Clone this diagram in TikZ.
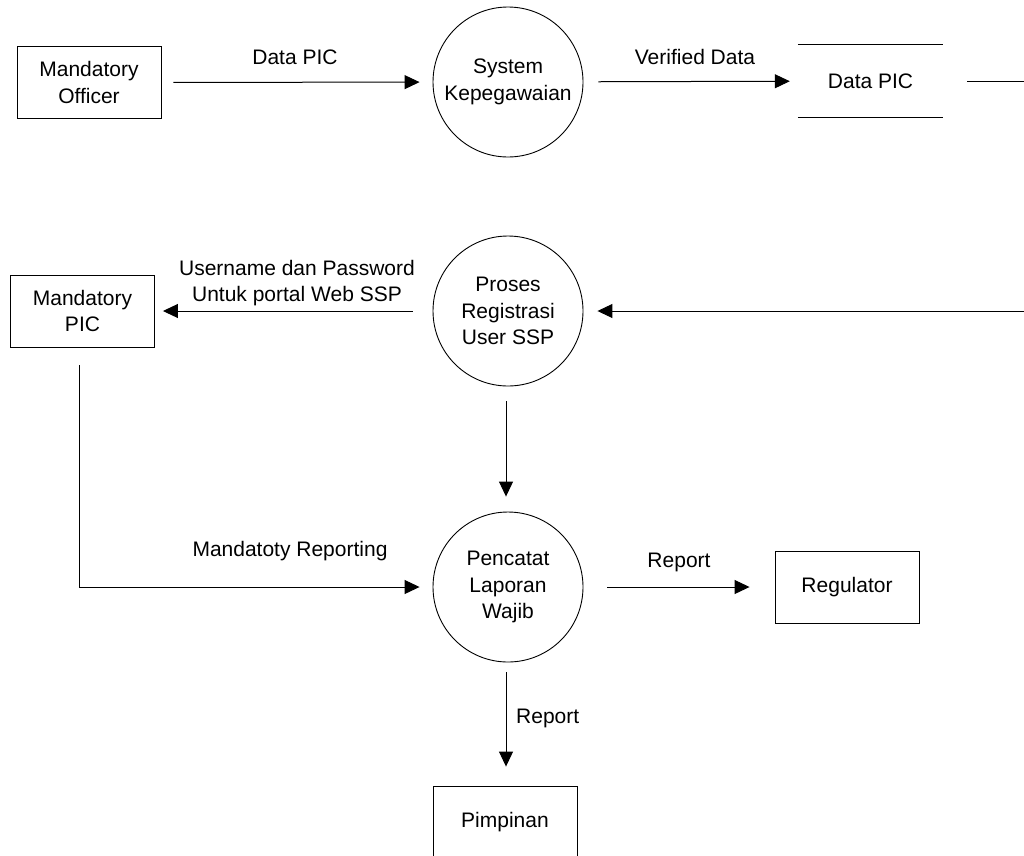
\documentclass[tikz,border=0pt]{standalone}
\usepackage{fontspec}
\setmainfont{Liberation Sans}
\usetikzlibrary{arrows.meta}
\begin{document}
\begin{tikzpicture}[x=1pt,y=-1pt,
  every node/.style={font=\fontsize{21}{26.5}\selectfont, align=center},
  entity/.style={draw, line width=0.9pt, minimum width=144pt, minimum height=72pt, inner sep=0pt},
  proc/.style={draw, circle, line width=0.9pt, minimum size=150pt, inner sep=0pt},
  store/.style={minimum width=145pt, minimum height=72pt, inner sep=0pt},
  flow/.style={line width=1pt, -{Triangle[length=15pt,width=14pt]}},
  lbl/.style={inner sep=0pt}]
\useasboundingbox (0,0) rectangle (1024,855);
\clip (0,0) rectangle (1024,855);
\fill[white] (0,0) rectangle (1024,855);

\node[entity] (officer) at (89,82.5) {Mandatory\\Officer};
\node[proc] (sysk) at (508,82) {System\\Kepegawaian};
\node[store] (dstore) at (870.5,81) {Data PIC};
\draw[line width=0.9pt] (dstore.north west) -- (dstore.north east);
\draw[line width=0.9pt] (dstore.south west) -- (dstore.south east);

\node[entity] (pic) at (82.5,311) {Mandatory\\PIC};
\node[proc] (proses) at (508,311) {Proses\\Registrasi\\User SSP};
\node[proc] (pencatat) at (508,587) {Pencatat\\Laporan\\Wajib};
\node[entity] (regulator) at (847,587) {Regulator};
\node[entity] (pimpinan) at (505,822) {Pimpinan};

\draw[flow, shorten <=12pt, shorten >=13pt] (officer) -- (sysk);
\node[lbl] (l1) at (295,57) {Data PIC};
\draw[flow, shorten <=15pt, shorten >=8pt] (sysk) -- (dstore);
\node[lbl] (l2) at (695,57) {Verified Data};

\coordinate (sout) at ([xshift=24pt]dstore.east);
\draw[flow, shorten >=14pt] (sout) -- ++(100,0) |- (proses.east);

\draw[flow, shorten <=20pt, shorten >=8pt] (proses.west) -- (pic.east);
\node[lbl] (l3) at (297,283) {Username dan Password\\Untuk portal Web SSP};

\draw[flow, shorten <=15pt, shorten >=15pt] ([xshift=-2pt]proses.south) -- ([xshift=-2pt]pencatat.north);

\coordinate (pout) at ([shift={(-3.5,18)}]pic.south);
\draw[flow, shorten >=13pt] (pout) |- (pencatat.west);
\node[lbl] (l4) at (290,551) {Mandatoty Reporting};

\draw[flow, shorten <=24pt, shorten >=25pt] (pencatat.east) -- (regulator.west);
\node[lbl] (l5) at (679,562) {Report};

\draw[flow, shorten <=10pt, shorten >=19pt] ([xshift=-2pt]pencatat.south) -- ([xshift=1pt]pimpinan.north);
\node[lbl, anchor=west] (l6) at (516,718) {Report};
\end{tikzpicture}
\end{document}
